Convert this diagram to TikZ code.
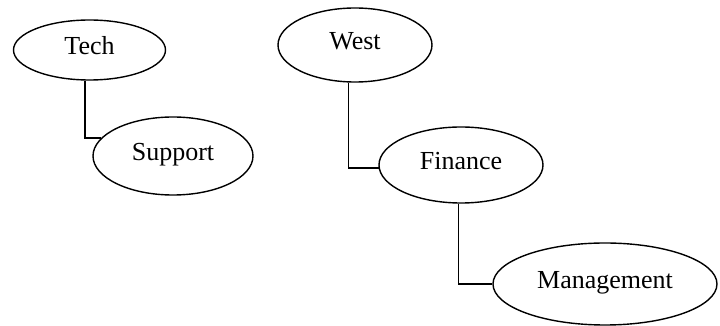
\documentclass[tikz,border=0pt]{standalone}
\usepackage{fontspec}
\setmainfont{Liberation Serif}
\usetikzlibrary{shapes,positioning}

\begin{document}
\begin{tikzpicture}[x=0.5pt, y=-0.5pt, line width=0.7pt, font=\fontsize{13}{15}\selectfont]
    \useasboundingbox (0,0) rectangle (720,326);
    \node[ellipse, draw, inner sep=0pt, text height=9pt, text depth=4pt, minimum width=76pt, minimum height=30pt] (tech) at (89.5,50) {Tech};
    \node[ellipse, draw, inner sep=0pt, text height=9pt, text depth=4pt, minimum width=80pt, minimum height=39pt] (support) at (173,156) {Support};
    \node[ellipse, draw, inner sep=0pt, text height=9pt, text depth=4pt, minimum width=77pt, minimum height=37pt] (west) at (355,45) {West};
    \node[ellipse, draw, inner sep=0pt, text height=9pt, text depth=4pt, minimum width=82pt, minimum height=38pt] (finance) at (461,165) {Finance};
    \node[ellipse, draw, inner sep=0pt, text height=9pt, text depth=4pt, minimum width=112pt, minimum height=41pt] (management) at (605,284) {Management};
    \draw (tech.262) |- (support.166);
    \draw (west.260) |- (finance.182);
    \draw (finance.266) |- (management.west);
\end{tikzpicture}
\end{document}
